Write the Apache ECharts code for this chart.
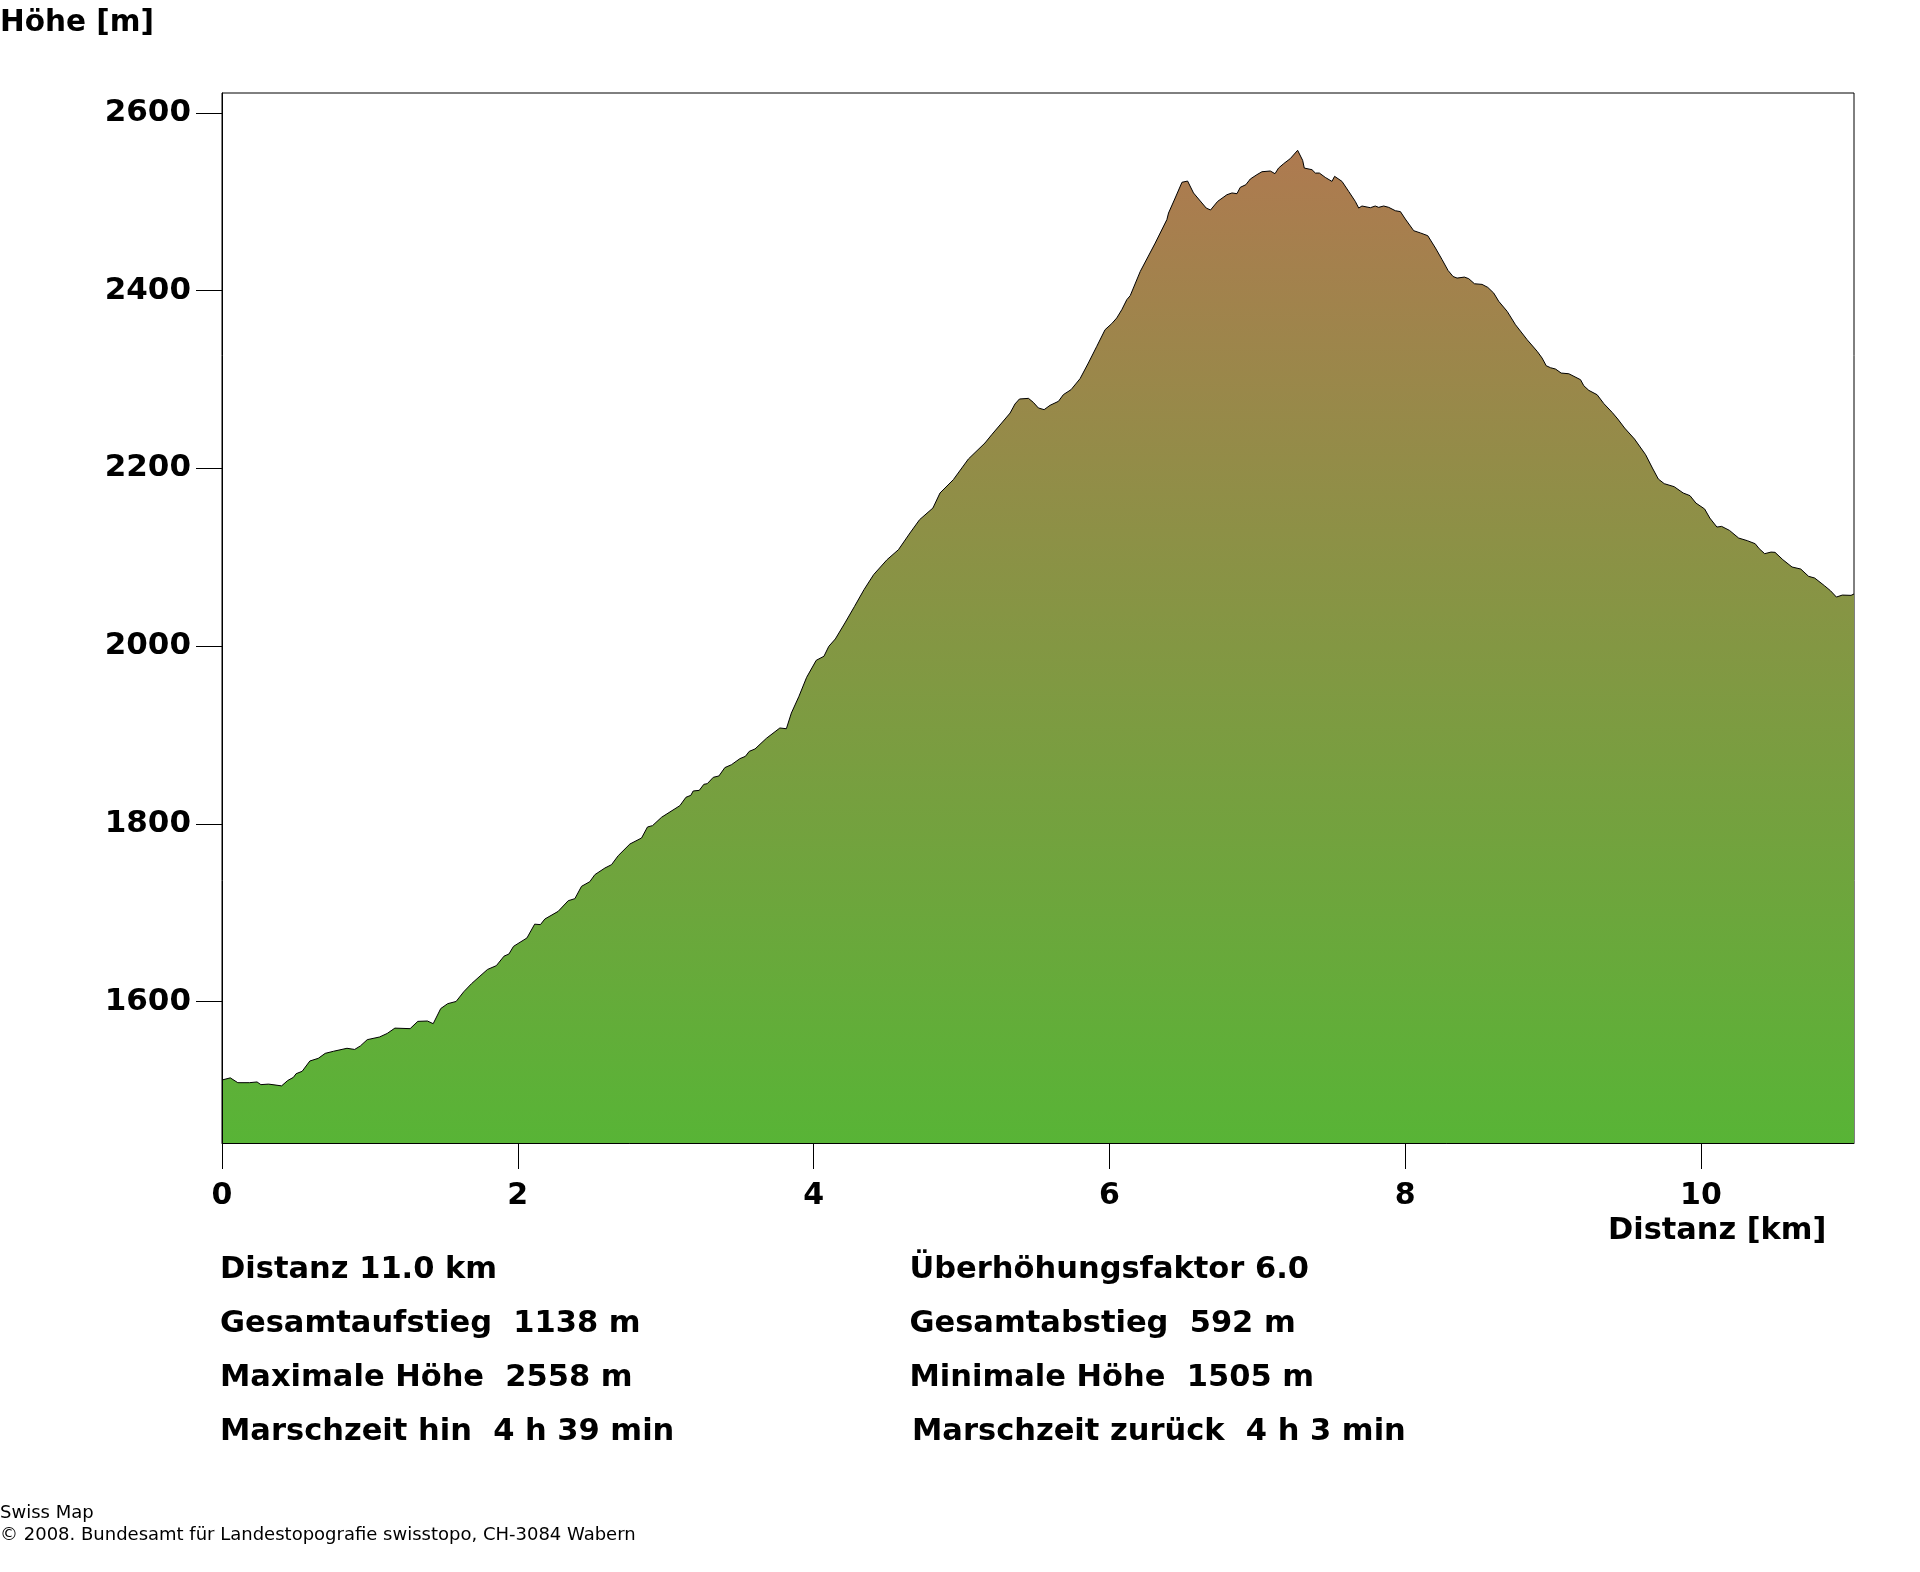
<!DOCTYPE html>
<html>
<head>
<meta charset="utf-8">
<style>html,body{margin:0;padding:0;background:#fff}#c{width:1920px;height:1572px}</style>
<script src="https://cdn.jsdelivr.net/npm/echarts@6/dist/echarts.min.js"></script>
</head>
<body>
<div id="c"></div>
<script>
const distanceKm = [0,.056,.107,.185,.237,.263,.315,.403,.444,.483,.501,.542,.594,.651,.698,.755,.845,.897,.936,.982,1.065,1.117,1.169,1.272,1.324,1.389,1.428,1.479,1.526,1.583,1.635,1.687,1.738,1.795,1.855,1.907,1.94,1.971,2.062,2.114,2.153,2.183,2.273,2.341,2.386,2.431,2.487,2.521,2.589,2.634,2.679,2.758,2.837,2.877,2.911,2.972,3.096,3.137,3.17,3.186,3.227,3.258,3.281,3.322,3.36,3.4,3.445,3.502,3.539,3.565,3.604,3.681,3.772,3.816,3.85,3.901,3.953,4.018,4.07,4.103,4.147,4.212,4.277,4.341,4.406,4.497,4.574,4.652,4.717,4.807,4.855,4.945,5.047,5.159,5.205,5.272,5.329,5.362,5.392,5.453,5.486,5.52,5.559,5.599,5.656,5.689,5.741,5.802,5.858,5.915,5.971,6.016,6.05,6.084,6.118,6.141,6.209,6.31,6.389,6.4,6.445,6.491,6.529,6.569,6.626,6.655,6.684,6.732,6.795,6.829,6.863,6.885,6.923,6.953,6.998,7.032,7.088,7.12,7.144,7.178,7.223,7.273,7.307,7.318,7.37,7.393,7.42,7.46,7.505,7.523,7.573,7.618,7.663,7.686,7.708,7.765,7.798,7.821,7.855,7.889,7.934,7.968,8.001,8.058,8.103,8.153,8.205,8.25,8.29,8.324,8.351,8.401,8.43,8.469,8.52,8.559,8.599,8.633,8.69,8.746,8.825,8.893,8.926,8.954,8.983,9.017,9.055,9.107,9.186,9.208,9.242,9.298,9.344,9.4,9.438,9.484,9.551,9.626,9.672,9.712,9.752,9.819,9.88,9.926,9.966,10.025,10.06,10.108,10.14,10.193,10.255,10.314,10.367,10.394,10.431,10.474,10.501,10.554,10.616,10.675,10.728,10.769,10.835,10.876,10.916,10.956,11.015,11.035];
const elevationM = [1511.6,1514,1508.6,1508.6,1509.4,1506.4,1507,1505,1511,1514.6,1518.7,1521.4,1533,1536,1541.6,1544,1547.3,1546,1550,1557,1560,1564,1570,1569.4,1577.6,1578,1575,1592,1597.5,1600,1611,1620,1627.6,1636,1640.3,1651,1653.4,1662,1671.5,1687,1686.5,1692.8,1701.4,1713.4,1715.7,1729.6,1734.8,1742.7,1750.2,1754,1764.1,1777.2,1784,1796.4,1797.9,1807.3,1820.4,1829.8,1832,1836.9,1837.6,1844.4,1845.1,1852.3,1853.8,1863.2,1866.5,1873.3,1875.9,1881.5,1884.2,1896.2,1907.8,1907,1924.7,1943.4,1964.8,1984,1988.5,1999.7,2008,2026,2044.7,2063.5,2080.4,2097.3,2108.5,2127.3,2142.3,2155.4,2172.3,2187.3,2210.6,2228.6,2238,2251.1,2262.3,2272.5,2278.1,2278.8,2274.3,2268,2266.1,2271,2275.5,2283,2288.6,2301,2318.6,2337.4,2356.1,2362.9,2369.3,2378.6,2389.9,2394.4,2421.7,2453.6,2480,2487.4,2504.3,2522,2523.4,2510,2498.7,2493,2490.8,2500.5,2508,2510,2509.2,2516.3,2519.3,2525.7,2530.6,2533.9,2534.7,2531.7,2538,2542.9,2548.6,2558,2546.7,2538,2536.2,2532.4,2532.4,2527.5,2523,2528.7,2523,2511.8,2500.5,2493,2495.3,2493.4,2495.3,2493.8,2495.3,2493.8,2490,2489,2480.7,2467.5,2465,2461.9,2448,2434.9,2422.8,2416,2414.2,2415.3,2413.5,2407.8,2407.1,2403.7,2397.3,2388,2376.7,2361.7,2344.8,2331.7,2324.2,2315.5,2313.3,2311.8,2307.3,2306.5,2299.8,2293,2287.8,2282.9,2272.8,2263,2255.5,2245.4,2233,2215.4,2200.4,2188,2182.8,2179.4,2172.3,2169.3,2161,2154.3,2144.1,2134,2134.7,2130.2,2121.6,2118.6,2115.2,2109.6,2104,2105.8,2105.5,2097.2,2089,2086.7,2078.5,2076.6,2068,2062.3,2055.2,2057.4,2057.1,2058.6];
const xTickValues = [0,2,4,6,8,10];
const yTickValues = [1600,1800,2000,2200,2400,2600];
const yAxisTitle = 'Höhe [m]';
const xAxisTitle = 'Distanz [km]';
const infoLeft = ['Distanz 11.0 km','Gesamtaufstieg  1138 m','Maximale Höhe  2558 m','Marschzeit hin  4 h 39 min'];
const infoRight = ['Überhöhungsfaktor 6.0','Gesamtabstieg  592 m','Minimale Höhe  1505 m','Marschzeit zurück  4 h 3 min'];
const footer = ['Swiss Map','© 2008. Bundesamt für Landestopografie swisstopo, CH-3084 Wabern'];

const FONT = '"DejaVu Sans"';
const boldText = (x, y, text, size) => ({type:'text', x, y, style:{text, x:0, y:0, fill:'#000', font:'bold '+size+'px '+FONT, textAlign:'left', textBaseline:'middle'}});
const plainText = (x, y, text) => ({type:'text', x, y, style:{text, x:0, y:0, fill:'#000', font:'18px '+FONT, textAlign:'left', textBaseline:'middle'}});

const infoY = [1255, 1309, 1363, 1417];
const graphics = [
  boldText(0, 8, yAxisTitle, 29.5),
  boldText(1608, 1216, xAxisTitle, 30.4),
  ...infoLeft.map((t,i)=>boldText(220, infoY[i], t, 30.5)),
  ...infoRight.map((t,i)=>boldText(i===3?912:909.5, infoY[i], t, 30.5)),
  plainText(0, 1504, footer[0]),
  plainText(0, 1526, footer[1])
];

const chart = echarts.init(document.getElementById('c'), null, {renderer:'canvas', width:1920, height:1572});
chart.setOption({
  animation:false,
  backgroundColor:'#fff',
  grid:{left:222, top:93, width:1632, height:1050, show:true, borderColor:'#000', borderWidth:1, backgroundColor:'transparent', containLabel:false},
  xAxis:{type:'value', min:0, max:11.035, z:5, splitLine:{show:false},
    axisLine:{show:true, lineStyle:{color:'#000', width:1}},
    axisTick:{show:true, length:26, customValues:xTickValues, lineStyle:{color:'#000', width:1}},
    axisLabel:{show:true, customValues:xTickValues, margin:38, color:'#000', fontFamily:FONT, fontWeight:'bold', fontSize:30, formatter:v=>String(v)}},
  yAxis:{type:'value', min:1440.7, max:2622.5, z:5, splitLine:{show:false},
    axisLine:{show:true, lineStyle:{color:'#000', width:1}},
    axisTick:{show:true, length:26, customValues:yTickValues, lineStyle:{color:'#000', width:1}},
    axisLabel:{show:true, customValues:yTickValues, margin:31, padding:[6,0,0,0], color:'#000', fontFamily:FONT, fontWeight:'bold', fontSize:31, formatter:v=>String(v)}},
  series:[{type:'line', data:distanceKm.map((d,i)=>[d, elevationM[i]]), showSymbol:false, symbol:'none', smooth:false, sampling:null,
    lineStyle:{color:'#000', width:1},
    areaStyle:{opacity:1, origin:'start', color:new echarts.graphic.LinearGradient(0,0,0,1,[{offset:0,color:'#AE7A50'},{offset:1,color:'#58B436'}])}}],
  graphic:graphics
});
</script>
</body>
</html>
